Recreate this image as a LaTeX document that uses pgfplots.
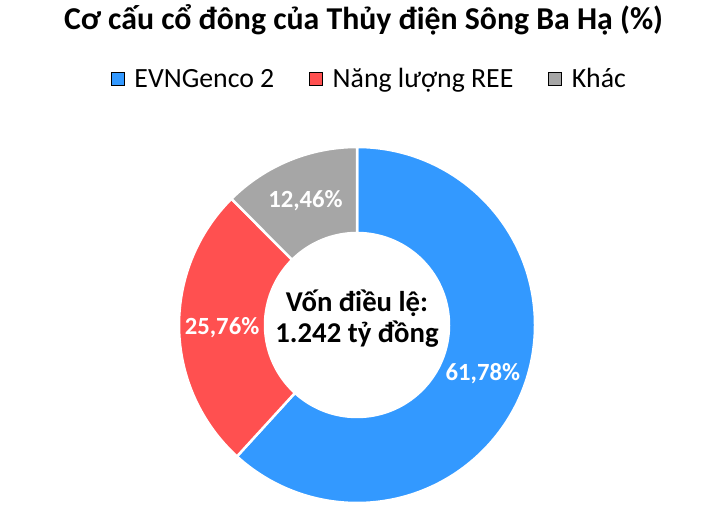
\documentclass[border=0pt]{standalone}
\usepackage{pgfplots}
\usepackage{pgfplotstable}
\pgfplotsset{compat=1.18}
\usetikzlibrary{calc}
\usepackage{fontspec}
\setmainfont{Carlito}
\definecolor{cblue}{HTML}{3399FF}
\definecolor{cred}{HTML}{FF5050}
\definecolor{cgray}{HTML}{A6A6A6}
\pgfplotstableread{
name value
EVNGenco2 61.78
REE 25.76
Khac 12.46
}\sharedata
\pgfplotstablegetelem{0}{value}\of\sharedata\let\vA\pgfplotsretval
\pgfplotstablegetelem{1}{value}\of\sharedata\let\vB\pgfplotsretval
\pgfplotstablegetelem{2}{value}\of\sharedata\let\vC\pgfplotsretval
\pgfmathsetmacro\sA{90}
\pgfmathsetmacro\eA{\sA-3.6*\vA}
\pgfmathsetmacro\eB{\eA-3.6*\vB}
\pgfmathsetmacro\eC{\eB-3.6*\vC}
\pgfmathsetmacro\mA{(\sA+\eA)/2}
\pgfmathsetmacro\mB{(\eA+\eB)/2}
\pgfmathsetmacro\mC{(\eB+\eC)/2}
\newcommand\slice[3]{%
  \filldraw[fill=#3,draw=white,line width=2.5pt,line join=round]
    ($(axis cs:357,196)+(#1:178pt)$) arc[start angle=#1,end angle=#2,radius=178pt]
    -- ($(axis cs:357,196)+(#2:92pt)$) arc[start angle=#2,end angle=#1,radius=92pt] -- cycle;}
\newcommand\plabel[2]{%
  \node[text=white,font=\bfseries\fontsize{24.7}{28}\selectfont,anchor=center]
    at ($(axis cs:357,196)+(#1:135pt)$)
    {\pgfmathprintnumber[fixed,fixed zerofill,precision=2,use comma,assume math mode=true]{#2}\%};}
\pgfplotsset{sqlegend/.style={legend image code/.code={\fill[##1] (0pt,-6.5pt) rectangle (13pt,6.5pt);}}}
\begin{document}%
\begin{tikzpicture}
\begin{axis}[
  width=727pt,height=521pt,scale only axis,
  xmin=0,xmax=727,ymin=0,ymax=521,
  xtick=\empty,ytick=\empty,
  hide axis,clip=false,
  legend columns=-1,
  legend style={draw=none,fill=none,at={(axis cs:369.5,442)},anchor=center,
    font=\fontsize{27.8}{32}\selectfont,
    /tikz/every even column/.append style={column sep=33pt},
    /tikz/every odd column/.append style={column sep=8pt}},
  sqlegend,
]
\addlegendimage{fill=cblue}
\addlegendentry{EVNGenco 2}
\addlegendimage{fill=cred}
\addlegendentry{Năng lượng REE}
\addlegendimage{fill=cgray}
\addlegendentry{Khác}
\path (axis cs:0,0) rectangle (axis cs:727,521);
\slice{\sA}{\eA}{cblue}
\slice{\eA}{\eB}{cred}
\slice{\eB}{\eC}{cgray}
\plabel{\mA}{\vA}
\plabel{\mB}{\vB}
\plabel{\mC}{\vC}
\node[font=\bfseries\fontsize{28.7}{34}\selectfont,anchor=base] at (axis cs:357,209.3) {Vốn điều lệ:};
\node[font=\bfseries\fontsize{28.7}{34}\selectfont,anchor=base] at (axis cs:357,178) {1.242 tỷ đồng};
\node[font=\bfseries\fontsize{31.8}{36}\selectfont,anchor=base] at (axis cs:363.5,491) {Cơ cấu cổ đông của Thủy điện Sông Ba Hạ (\%)};
\end{axis}
\end{tikzpicture}%
\end{document}
